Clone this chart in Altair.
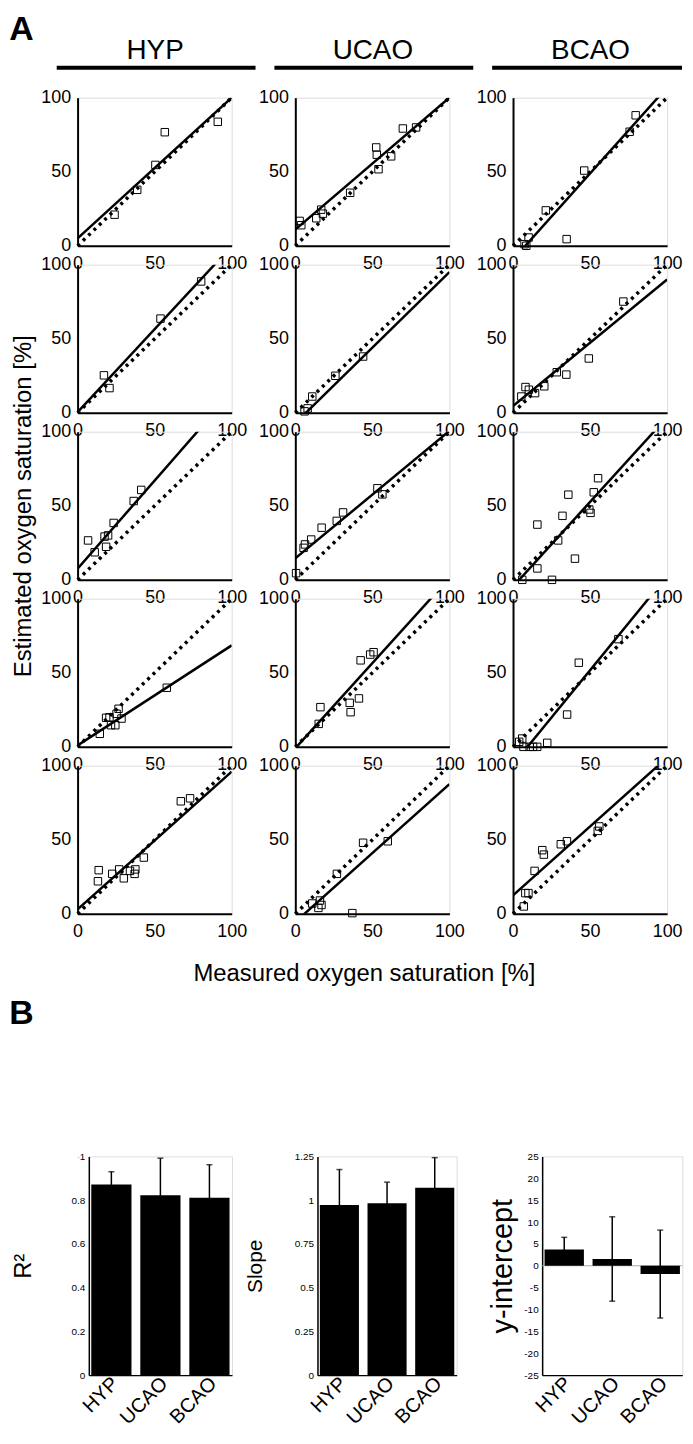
import altair as alt
import pandas as pd

FONT = "Liberation Sans"
groups = ["HYP", "UCAO", "BCAO"]

# ---- Panel A: measured (x) vs estimated (y) oxygen saturation, 5 animals per group ----
meas_HYP = [
    [24, 38.7, 50.5, 56.6, 91],
    [17.1, 20.7, 53.8, 80.2],
    [6.8, 11.1, 17.5, 18.5, 19.8, 23.4, 36.4, 41.3],
    [14.4, 18.5, 20.7, 21.7, 24.5, 25.3, 26.6, 28.5, 57.9],
    [13.7, 13.2, 22.5, 27, 30, 34, 37, 37.5, 43, 67, 73],
]
est_HYP = [
    [21, 37.8, 54.6, 76.7, 83.7],
    [25.3, 16.7, 63.6, 88.7],
    [26.6, 18.6, 29.2, 22.3, 30, 38.4, 53.2, 60.7],
    [8.8, 19.6, 20, 14.6, 14.6, 22.3, 25.7, 19.1, 39.9],
    [29.5, 22, 27, 30, 24, 29, 27, 30, 38, 76, 78],
]
meas_UCAO = [
    [2.8, 3.9, 13.6, 16.8, 17.9, 35.6, 52.5, 52.9, 54, 62.2, 69.8, 78.4],
    [6, 8, 11, 26, 44],
    [0.5, 5.4, 6.3, 10.3, 17.1, 26.9, 31, 53.3, 56.5],
    [15.2, 16.3, 35.3, 35.9, 41.3, 42.4, 48.6, 50.8],
    [11, 15, 16, 17, 27, 44, 60, 37],
]
est_UCAO = [
    [16.8, 13.9, 18.6, 24.4, 21.7, 35.8, 66.4, 61.5, 51.7, 60.4, 79.2, 79.9],
    [1, 3, 11, 25, 38],
    [4.5, 21.6, 23.9, 27.2, 35.2, 39.8, 45.5, 61.8, 57.7],
    [15.5, 26.8, 29.7, 23.4, 32.7, 58.4, 62.3, 63.9],
    [7, 4, 9, 6, 27, 48, 49, 0.5],
]
meas_BCAO = [
    [7.5, 8.6, 10.1, 21.3, 34.8, 46.2, 75.7, 79.6],
    [5.4, 8.1, 10.3, 14.3, 20.3, 28.4, 34.6, 49.2, 71.6],
    [6, 15.8, 15.8, 25.3, 29.3, 32.1, 35.9, 40.2, 49.5, 50.3, 52.4, 55.2],
    [4, 6, 6.8, 10.8, 13, 15.7, 22.2, 35.1, 42.7, 68.4],
    [7, 8, 10, 14, 19, 20, 31, 35, 55, 56],
]
est_BCAO = [
    [1.1, 0, 5.6, 23.9, 4.5, 50.8, 77, 88.1],
    [11, 17.4, 15.6, 13.3, 17.9, 27.4, 25.8, 36.7, 75.1],
    [0, 7.7, 37.3, 0, 26.6, 43.2, 57.5, 14.3, 47.5, 45.2, 59.1, 68.6],
    [3.4, 5.6, 0, 0, 0, 0, 2.7, 21.8, 56.8, 72.7],
    [5, 14, 14, 29, 43, 40, 47, 49, 56, 59],
]
# regression fits (slope, intercept) per animal
slope_HYP = [0.95, 1.12, 1.19, 0.675, 0.93]
icpt_HYP = [5, 0.5, 7.5, 1, 3]
slope_UCAO = [0.89, 1.02, 0.86, 1.15, 0.93]
icpt_UCAO = [11, -7, 14.5, -1, -5.5]
slope_BCAO = [1.163, 0.855, 1.144, 1.274, 0.93]
icpt_BCAO = [-9.3, 4.5, -4.6, -12, 12.5]
identity_x = [0, 100]
axis_ticks = [0, 50, 100]

MEAS = {"HYP": meas_HYP, "UCAO": meas_UCAO, "BCAO": meas_BCAO}
EST = {"HYP": est_HYP, "UCAO": est_UCAO, "BCAO": est_BCAO}
SLOPE = {"HYP": slope_HYP, "UCAO": slope_UCAO, "BCAO": slope_BCAO}
ICPT = {"HYP": icpt_HYP, "UCAO": icpt_UCAO, "BCAO": icpt_BCAO}

# ---- Panel B: summary statistics ----
r2_mean = [0.872, 0.823, 0.811]
r2_sd = [0.058, 0.169, 0.151]
slope_mean = [0.972, 0.982, 1.071]
slope_sd = [0.203, 0.121, 0.172]
icpt_mean = [3.7, 1.55, -1.9]
icpt_sd = [2.8, 9.65, 10.05]

LABEL_EXPR = "replace(format(datum.value, '~g'), '\u2212', '-')"


def scatter_panel(r, c):
    g = groups[c]
    pts = pd.DataFrame({"meas": MEAS[g][r], "est": EST[g][r]})
    m, b = SLOPE[g][r], ICPT[g][r]
    fit = pd.DataFrame({"meas": identity_x, "est": [b + m * v for v in identity_x]})
    ident = pd.DataFrame({"meas": identity_x, "est": identity_x})

    xkw = dict(values=axis_ticks, grid=False, ticks=False, labelFlush=False,
               labelOverlap=False, labelFontSize=18, labelPadding=9,
               domainColor="black", domainWidth=2, labelColor="black")
    ykw = dict(xkw)
    ykw["labelPadding"] = 7
    if r == 4 and c == 1:
        xax = alt.Axis(title="Measured oxygen saturation [%]", titleFontSize=24,
                       titleFontWeight="normal", titlePadding=21, titleColor="black",
                       titleX=69, **xkw)
    else:
        xax = alt.Axis(title=None, **xkw)
    if r == 2 and c == 0:
        yax = alt.Axis(title="Estimated oxygen saturation [%]", titleFontSize=24,
                       titleFontWeight="normal", titlePadding=5, titleColor="black", **ykw)
    else:
        yax = alt.Axis(title=None, **ykw)

    X = alt.X("meas:Q", scale=alt.Scale(domain=[0, 100], nice=False, zero=False), axis=xax)
    Y = alt.Y("est:Q", scale=alt.Scale(domain=[0, 100], nice=False, zero=False), axis=yax)

    l_ident = alt.Chart(ident).mark_line(color="black", strokeWidth=3.5,
                                         strokeDash=[3, 4.5]).encode(x=X, y=Y)
    l_fit = alt.Chart(fit).mark_line(color="black", strokeWidth=2.5, clip=True).encode(x=X, y=Y)
    l_pts = alt.Chart(pts).mark_point(shape="square", filled=False, size=56, color="black",
                                      strokeWidth=1, opacity=1).encode(x=X, y=Y)
    layers = [l_ident, l_fit, l_pts]
    if r == 0:
        hdr = pd.DataFrame({"group": [g]})
        x2 = 170 if c == 2 else 179
        layers.append(alt.Chart(hdr).mark_text(fontSize=28, align="center", baseline="middle",
                                               color="black").encode(
            text="group:N", x=alt.value(78), y=alt.value(-47)))
        layers.append(alt.Chart(hdr).mark_rule(strokeWidth=4, color="black").encode(
            x=alt.value(-21), x2=alt.value(x2), y=alt.value(-30)))
        if c == 0:
            layers.append(alt.Chart(hdr).mark_text(text="A", fontSize=34, fontWeight="bold",
                                                   align="left", baseline="top",
                                                   color="black").encode(
                x=alt.value(-68.7), y=alt.value(-85.3)))
    return alt.layer(*layers).properties(width=155, height=149)


grid = alt.concat(*[scatter_panel(r, c) for r in range(5) for c in range(3)],
                  columns=3, spacing={"row": 19, "column": 64}, bounds="flush")


def bar_panel(mean, sd, domain, ticks, title, width, tpad, tsize, letter=False, zero=False):
    df = pd.DataFrame({"group": groups, "val": mean,
                       "lo": [a - s for a, s in zip(mean, sd)],
                       "hi": [a + s for a, s in zip(mean, sd)]})
    X = alt.X("group:N", sort=groups,
              scale=alt.Scale(paddingInner=0.18, paddingOuter=0.05),
              axis=alt.Axis(title=None, labelAngle=315, labelAlign="right",
                            labelBaseline="middle", labelFontSize=20, labelPadding=5,
                            labelOffset=4, ticks=False, domainColor="black",
                            domainWidth=1.5, labelColor="black"))
    yscale = alt.Scale(domain=domain, nice=False, zero=False)
    yaxis = alt.Axis(values=ticks, grid=False, ticks=False,
                     labelFontSize=10, labelPadding=4, labelFlush=False,
                     labelOverlap=False, labelColor="black",
                     labelExpr=LABEL_EXPR,
                     title=title, titleFontSize=tsize, titleFontWeight="normal",
                     titlePadding=tpad, titleColor="black",
                     domainColor="black", domainWidth=1.5)

    def Y(field):
        return alt.Y(field + ":Q", scale=yscale, axis=yaxis, title=title)

    layers = []
    if zero:
        zdf = pd.DataFrame({"val": [0]})
        layers.append(alt.Chart(zdf).mark_rule(color="#aaaaaa", strokeWidth=1.2).encode(
            y=Y("val")))
    layers.append(alt.Chart(df).mark_bar(color="black").encode(x=X, y=Y("val")))
    layers.append(alt.Chart(df).mark_rule(color="black", strokeWidth=1.5).encode(
        x=X, y=Y("lo"), y2="hi:Q"))
    layers.append(alt.Chart(df).mark_tick(color="black", size=6, thickness=1.5).encode(
        x=X, y=Y("hi")))
    layers.append(alt.Chart(df).mark_tick(color="black", size=6, thickness=1.5).encode(
        x=X, y=Y("lo")))
    if letter:
        layers.append(alt.Chart(pd.DataFrame({"l": ["B"]})).mark_text(
            text="B", fontSize=34, fontWeight="bold", align="left", baseline="top",
            color="black").encode(x=alt.value(-80), y=alt.value(-160)))
    return alt.layer(*layers).properties(width=width, height=220)


b1 = bar_panel(r2_mean, r2_sd, [0, 1], [0, 0.2, 0.4, 0.6, 0.8, 1], "R²", 144, 36, 24,
               letter=True)
b2 = bar_panel(slope_mean, slope_sd, [0, 1.25], [0, 0.25, 0.5, 0.75, 1, 1.25], "Slope",
               140, 29, 21)
b3 = bar_panel(icpt_mean, icpt_sd, [-25, 25], list(range(-25, 30, 5)), "y-intercept",
               141, 6, 29, zero=True)
bars_inner = alt.hconcat(b1, b2, b3, spacing=86, bounds="flush")
# invisible 1px spacer so that panel B sits slightly right of the panel-A column origin
spacer = alt.Chart(pd.DataFrame({"s": [0]})).mark_point(opacity=0).encode(
    x=alt.value(0), y=alt.value(0)).properties(width=1, height=1)
bars = alt.hconcat(spacer, bars_inner, spacing=10.3, bounds="flush")

chart = alt.vconcat(grid, bars, spacing=10).properties(
    padding={"top": 0, "left": 0, "right": 0, "bottom": 0}
).configure_view(stroke=None).configure(font=FONT)

chart.save("out.html", embed_options={"renderer": "svg", "actions": False})
